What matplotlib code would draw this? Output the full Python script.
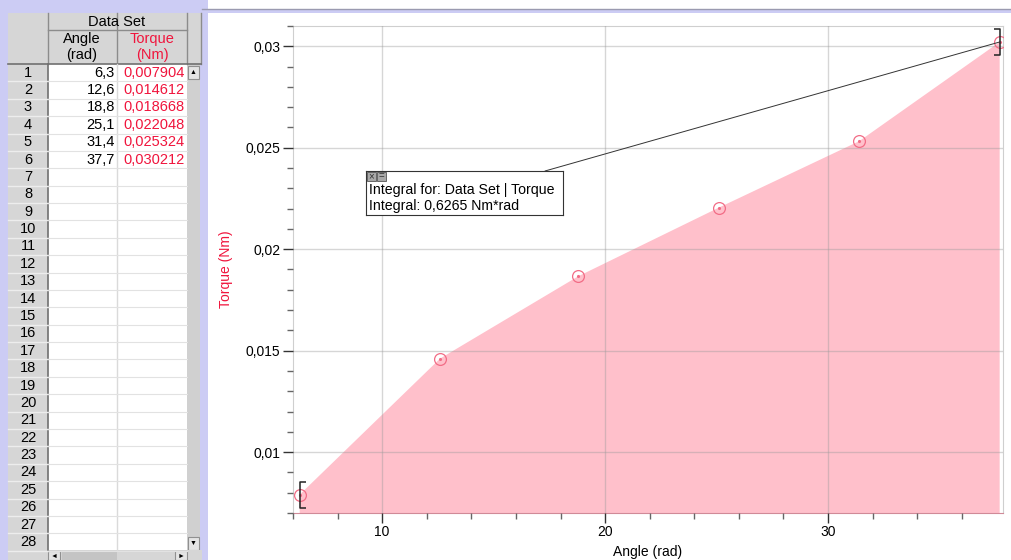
import matplotlib.pyplot as plt
from matplotlib.patches import Rectangle
from matplotlib.path import Path
from matplotlib.ticker import MultipleLocator, FuncFormatter

plt.rcParams['font.family'] = ['Liberation Sans', 'DejaVu Sans']

# data set from the table
angle = [6.3, 12.6, 18.8, 25.1, 31.4, 37.7]
torque = [0.007904, 0.014612, 0.018668, 0.022048, 0.025324, 0.030212]
integral_text = 'Integral for: Data Set | Torque\nIntegral: 0,6265 Nm*rad'
n_rows = 28

W, H = 1012, 560
fig = plt.figure(figsize=(W / 100, H / 100), dpi=100)
fig.patch.set_facecolor('white')

# background layer in pixel coordinates (table, borders)
bg = fig.add_axes([0, 0, 1, 1], zorder=0)
bg.set_xlim(0, W)
bg.set_ylim(H, 0)
bg.axis('off')

lav = '#CCCCF4'
def rect(x0, y0, x1, y1, fc, ec='none', lw=0.8, z=1):
    bg.add_patch(Rectangle((x0, y0), x1 - x0, y1 - y0, facecolor=fc,
                           edgecolor=ec, linewidth=lw, zorder=z))

rect(0, 0, 208, H, lav)
rect(202, 9, W, 13, lav)
rect(208, 13, W, H, 'white')
bg.plot([202, W], [9, 9], color='#9A9AB0', lw=1, zorder=2)

# table header
gray = '#D6D6D6'
rect(8, 13, 202, 64, gray)
rect(8, 64, 48, 550, gray)
rect(48, 64, 187, 550, 'white')
rect(187, 64, 200, 550, '#D0D0D0')
for x in [48, 117, 187, 201]:
    bg.plot([x, x], [13, 64], color='#8C8C8C', lw=1, zorder=3)
bg.plot([48, 187], [30, 30], color='#8C8C8C', lw=1, zorder=3)
bg.plot([8, 201], [64, 64], color='#707070', lw=1.2, zorder=3)
bg.plot([48, 48], [64, 550], color='#707070', lw=1.2, zorder=3)
bg.plot([117, 117], [64, 550], color='#DADADA', lw=1, zorder=3)
bg.text(117, 21.5, 'Data Set', ha='center', va='center', fontsize=10.5)
bg.text(82, 47, 'Angle\n(rad)', ha='center', va='center', fontsize=10.5, linespacing=1.1)
bg.text(152, 47, 'Torque\n(Nm)', ha='center', va='center', fontsize=10.5,
        color='#F0143C', linespacing=1.1)

row_h = 17.38
for i in range(n_rows):
    y0 = 64 + i * row_h
    yc = y0 + row_h / 2
    bg.plot([8, 48], [y0 + row_h, y0 + row_h], color='#EDEDED', lw=1, zorder=3)
    bg.plot([48, 187], [y0 + row_h, y0 + row_h], color='#E2E2E2', lw=0.8, zorder=3)
    bg.text(28, yc, str(i + 1), ha='center', va='center', fontsize=10.5)
    if i < len(angle):
        bg.text(115, yc, f'{angle[i]:.1f}'.replace('.', ','), ha='right',
                va='center', fontsize=10.5)
        bg.text(185, yc, f'{torque[i]:.6f}'.replace('.', ','), ha='right',
                va='center', fontsize=10.5, color='#F0143C')

# scroll bars
rect(188, 66, 199, 79, '#E4E4E4', '#909090')
bg.text(193.5, 72.5, '\u25b2', ha='center', va='center', fontsize=5)
rect(188, 537, 199, 550, '#E4E4E4', '#909090')
bg.text(193.5, 543.5, '\u25bc', ha='center', va='center', fontsize=5)
rect(8, 550, 202, H, '#D6D6D6')
rect(48, 551, 60, H, '#E4E4E4', '#909090')
bg.text(54, 556, '\u25c4', ha='center', va='center', fontsize=5)
rect(62, 551, 117, H, '#C4C4C4')
rect(175, 551, 187, H, '#E4E4E4', '#909090')
bg.text(181, 556, '\u25ba', ha='center', va='center', fontsize=5)

# graph
ax = fig.add_axes([293 / W, 1 - 513 / H, (1003 - 293) / W, (513 - 26) / H], zorder=2)
ax.set_facecolor('none')
ax.fill_between(angle, torque, 0, facecolor='#FFC0CB', edgecolor='none', zorder=1)
ax.plot(angle, torque, 'o', ms=8.5, mfc='none', mec='#F26C86', mew=0.9, zorder=4)
ax.plot(angle, torque, '.', ms=2.5, color='#F26C86', zorder=4)

left_br = Path([(0.45, -1), (0, -1), (0, 1), (0.45, 1)])
right_br = Path([(-0.45, -1), (0, -1), (0, 1), (-0.45, 1)])
ax.plot(angle[0], torque[0], marker=left_br, ms=19, mfc='none', mec='#222222',
        mew=1.1, zorder=5, clip_on=False)
ax.plot(angle[-1], torque[-1], marker=right_br, ms=19, mfc='none', mec='#222222',
        mew=1.1, zorder=5, clip_on=False)

ax.set_xlim(6.0, 37.85)
ax.set_ylim(0.007, 0.031)
ax.xaxis.set_major_locator(MultipleLocator(10))
ax.xaxis.set_minor_locator(MultipleLocator(2))
ax.yaxis.set_major_locator(MultipleLocator(0.005))
ax.yaxis.set_minor_locator(MultipleLocator(0.001))
ax.yaxis.set_major_formatter(FuncFormatter(lambda v, p: f'{v:g}'.replace('.', ',')))
ax.tick_params(which='major', length=7, width=1, color='#333333', labelsize=10, pad=2)
ax.tick_params(which='minor', length=4.5, width=1, color='#666666')
ax.grid(True, which='major', color='#9A9A9A', alpha=0.4, lw=1)
ax.set_axisbelow(False)
for s in ax.spines.values():
    s.set_color('#CFCFCF')
ax.spines['bottom'].set_color('#D08A98')

ax.set_xlabel('Angle (rad)', fontsize=10, labelpad=4)
ax.set_ylabel('Torque (Nm)', fontsize=10, color='#F0143C', labelpad=9)

# integral annotation box
ax.annotate('', xy=(angle[-1], torque[-1]), xytext=(545, H - 171),
            textcoords='figure pixels',
            arrowprops=dict(arrowstyle='-', color='#333333', lw=0.7,
                            shrinkA=0, shrinkB=0), zorder=6)
box = fig.add_axes([366 / W, 1 - 215 / H, (563 - 366) / W, (215 - 171) / H], zorder=5)
box.set_xlim(366, 563)
box.set_ylim(215, 171)
box.set_xticks([])
box.set_yticks([])
for s in box.spines.values():
    s.set_color('#333333')
box.add_patch(Rectangle((367, 171.5), 9, 9, facecolor='#A8A8A8', edgecolor='#555555', lw=0.6))
box.text(371.5, 176, '\u00d7', ha='center', va='center', fontsize=7, color='#333333')
box.add_patch(Rectangle((377, 171.5), 9, 9, facecolor='#A8A8A8', edgecolor='#555555', lw=0.6))
box.text(381.5, 176, '=', ha='center', va='center', fontsize=7, color='#333333')
box.text(369, 198, integral_text, ha='left', va='center', fontsize=10.2, linespacing=1.15)

fig.savefig('out.png', dpi=100)
